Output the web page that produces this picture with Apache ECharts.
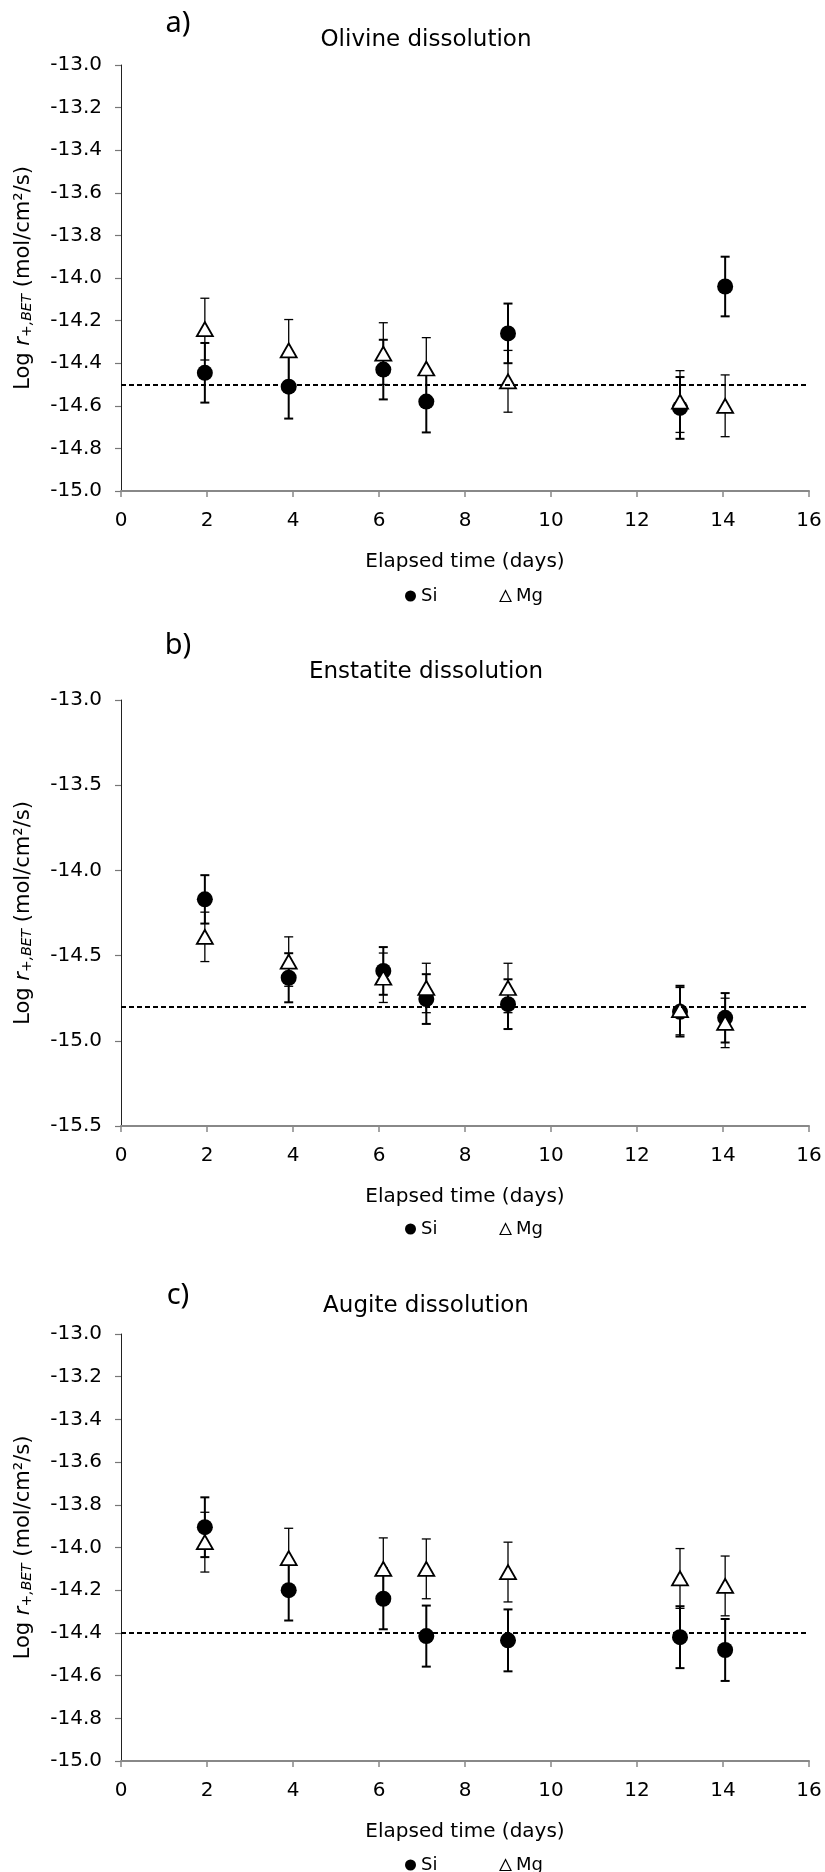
<!DOCTYPE html>
<html>
<head>
<meta charset="utf-8">
<title>Dissolution rates</title>
<script src="https://cdn.jsdelivr.net/npm/echarts@6/dist/echarts.min.js"></script>
<style>
  html, body { margin: 0; padding: 0; background: #fff; }
  #chart { width: 825px; height: 1872px; }
</style>
</head>
<body>
<div id="chart"></div>
<script>
// elapsed time of each sample (days)
const days = [1.95, 3.9, 6.1, 7.1, 9.0, 13.0, 14.05];

// a) olivine
const olivineSi = [-14.445, -14.51, -14.43, -14.58, -14.26, -14.61, -14.04];
const olivineSiErr = [0.14, 0.15, 0.14, 0.145, 0.14, 0.145, 0.14];
const olivineMg = [-14.24, -14.34, -14.355, -14.425, -14.485, -14.58, -14.6];
const olivineMgErr = [0.145, 0.145, 0.145, 0.145, 0.145, 0.145, 0.145];
const olivineBase = -14.5;

// b) enstatite
const enstatiteSi = [-14.17, -14.63, -14.59, -14.755, -14.785, -14.83, -14.865];
const enstatiteSiErr = [0.142, 0.144, 0.14, 0.146, 0.146, 0.145, 0.145];
const enstatiteMg = [-14.39, -14.535, -14.63, -14.69, -14.69, -14.82, -14.895];
const enstatiteMgErr = [0.145, 0.145, 0.145, 0.145, 0.145, 0.145, 0.145];
const enstatiteBase = -14.8;

// c) augite
const augiteSi = [-13.905, -14.2, -14.24, -14.415, -14.435, -14.42, -14.48];
const augiteSiErr = [0.14, 0.142, 0.143, 0.143, 0.145, 0.145, 0.145];
const augiteMg = [-13.975, -14.05, -14.1, -14.1, -14.115, -14.145, -14.18];
const augiteMgErr = [0.14, 0.14, 0.145, 0.14, 0.14, 0.14, 0.14];
const augiteBase = -14.4;

const FONT = "DejaVu Sans";

const panels = [
  { label: "a)", title: "Olivine dissolution", si: olivineSi, siErr: olivineSiErr,
    mg: olivineMg, mgErr: olivineMgErr, base: olivineBase,
    yMin: -15, yMax: -13, yStep: 0.2,
    top: 65, height: 426, labelY: 24, titleY: 40, legendY: 582 },
  { label: "b)", title: "Enstatite dissolution", si: enstatiteSi, siErr: enstatiteSiErr,
    mg: enstatiteMg, mgErr: enstatiteMgErr, base: enstatiteBase,
    yMin: -15.5, yMax: -13, yStep: 0.5,
    top: 700, height: 426, labelY: 646, titleY: 672, legendY: 1215 },
  { label: "c)", title: "Augite dissolution", si: augiteSi, siErr: augiteSiErr,
    mg: augiteMg, mgErr: augiteMgErr, base: augiteBase,
    yMin: -15, yMax: -13, yStep: 0.2,
    top: 1334, height: 427, labelY: 1296, titleY: 1306, legendY: 1851 }
];

// vertical error bar with small caps
const errorBar = (lineWidth) => (params, api) => {
  const x = api.value(0);
  const lo = api.coord([x, api.value(1)]);
  const hi = api.coord([x, api.value(2)]);
  const half = 4.5;
  const style = { stroke: "#000", lineWidth: lineWidth };
  return {
    type: "group",
    children: [
      { type: "line", shape: { x1: hi[0], y1: hi[1], x2: lo[0], y2: lo[1] }, style: style },
      { type: "line", shape: { x1: hi[0] - half, y1: hi[1], x2: hi[0] + half, y2: hi[1] }, style: style },
      { type: "line", shape: { x1: lo[0] - half, y1: lo[1], x2: lo[0] + half, y2: lo[1] }, style: style }
    ]
  };
};

const option = {
  animation: false,
  textStyle: { fontFamily: FONT },
  title: [],
  grid: [],
  xAxis: [],
  yAxis: [],
  legend: [],
  series: []
};

panels.forEach((p, i) => {
  option.title.push({
    text: p.label, left: 178, top: p.labelY, padding: 0,
    textAlign: "center", textVerticalAlign: "middle",
    textStyle: { fontFamily: "Noto Sans", fontSize: 29, fontWeight: "normal", color: "#000" }
  });
  option.title.push({
    text: p.title, left: 426, top: p.titleY, padding: 0,
    textAlign: "center", textVerticalAlign: "middle",
    textStyle: { fontFamily: FONT, fontSize: 23, fontWeight: "normal", color: "#000" }
  });

  option.grid.push({ left: 121, width: 688, top: p.top, height: p.height });

  option.xAxis.push({
    gridIndex: i, type: "value", min: 0, max: 16, interval: 2,
    name: "Elapsed time (days)", nameLocation: "middle", nameGap: 61,
    nameTextStyle: { fontSize: 20, color: "#000" },
    axisLine: { onZero: false, lineStyle: { color: "#888", width: 2 } },
    axisTick: { length: 6, lineStyle: { color: "#888", width: 1.5 } },
    axisLabel: { fontSize: 20, color: "#000", margin: 20 },
    splitLine: { show: false }
  });

  option.yAxis.push({
    gridIndex: i, type: "value", min: p.yMin, max: p.yMax, interval: p.yStep,
    name: "{t|Log }{i|r}{s|+,BET}{t| (mol/cm²/s)}",
    nameLocation: "middle", nameRotate: 90, nameGap: 87,
    nameTextStyle: {
      rich: {
        t: { fontSize: 21, color: "#000", fontFamily: FONT },
        i: { fontSize: 21, color: "#000", fontFamily: FONT, fontStyle: "italic" },
        s: { fontSize: 14, color: "#000", fontFamily: FONT, fontStyle: "italic", verticalAlign: "bottom" }
      }
    },
    axisLine: { show: true, onZero: false, lineStyle: { color: "#222", width: 1 } },
    axisTick: { show: true, length: 6, lineStyle: { color: "#777", width: 1.2 } },
    axisLabel: { fontSize: 20, color: "#000", margin: 19, formatter: (v) => v.toFixed(1) },
    splitLine: { show: false }
  });

  option.legend.push({
    left: 400, top: p.legendY, itemGap: 62, itemWidth: 11, itemHeight: 11,
    textStyle: { fontSize: 18, color: "#000" },
    data: [
      { name: "Si", icon: "circle", itemStyle: { color: "#000", opacity: 1 } },
      { name: "Mg", icon: "triangle", itemStyle: { color: "#fff", borderColor: "#000", borderWidth: 1.2, opacity: 1 } }
    ]
  });

  option.series.push({
    name: "Si error", type: "custom", xAxisIndex: i, yAxisIndex: i,
    renderItem: errorBar(2),
    encode: { x: 0, y: [1, 2] },
    data: days.map((d, k) => [d, p.si[k] - p.siErr[k], p.si[k] + p.siErr[k]]),
    markLine: {
      silent: true, symbol: "none", label: { show: false },
      lineStyle: { type: [5, 3], color: "#000", width: 2 },
      data: [{ yAxis: p.base }]
    }
  });
  option.series.push({
    name: "Mg error", type: "custom", xAxisIndex: i, yAxisIndex: i,
    renderItem: errorBar(1.3),
    encode: { x: 0, y: [1, 2] },
    data: days.map((d, k) => [d, p.mg[k] - p.mgErr[k], p.mg[k] + p.mgErr[k]])
  });
  option.series.push({
    name: "Si", type: "scatter", xAxisIndex: i, yAxisIndex: i,
    symbol: "circle", symbolSize: 16,
    itemStyle: { color: "#000", opacity: 1 },
    data: days.map((d, k) => [d, p.si[k]])
  });
  option.series.push({
    name: "Mg", type: "scatter", xAxisIndex: i, yAxisIndex: i,
    symbol: "triangle", symbolSize: [16, 14],
    itemStyle: { color: "#fff", borderColor: "#000", borderWidth: 1.8, opacity: 1 },
    data: days.map((d, k) => [d, p.mg[k]])
  });
});

const chart = echarts.init(document.getElementById("chart"));
chart.setOption(option);
</script>
</body>
</html>
